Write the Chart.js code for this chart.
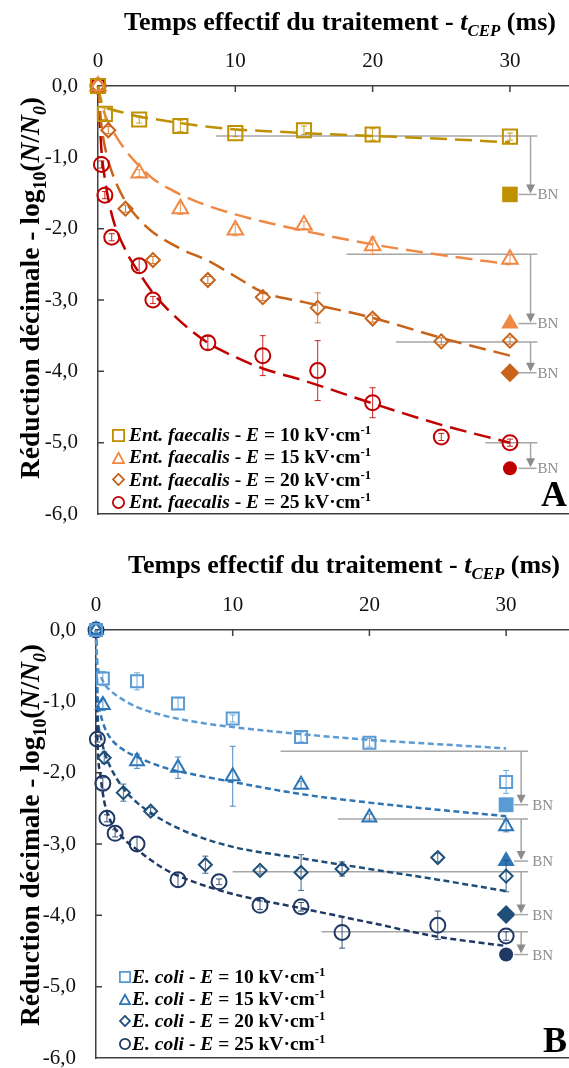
<!DOCTYPE html>
<html><head><meta charset="utf-8">
<script src="https://cdn.jsdelivr.net/npm/chart.js@4"></script>
<style>
html,body{margin:0;padding:0;background:#fff;overflow:hidden;width:569px;height:1068px}
#wrap{position:relative;width:569px;height:1068px;font-family:'Liberation Serif','Times New Roman',serif;color:#000}
canvas{position:absolute;left:0}
.xt{position:absolute;font-weight:bold;font-size:26px;white-space:nowrap;line-height:26px}
.yt{position:absolute;font-weight:bold;font-size:27.5px;white-space:nowrap;line-height:28px;transform:translate(-50%,-50%) rotate(-90deg)}
.lr{position:absolute;font-weight:bold;font-size:19.5px;white-space:nowrap;height:22px;line-height:22px;display:flex;align-items:center}
.pl{position:absolute;font-weight:bold;font-size:36px;line-height:36px}
sub,sup{font-size:65%;line-height:0}
</style></head>
<body><div id="wrap">
<canvas id="cA" width="569" height="540" style="top:0"></canvas>
<canvas id="cB" width="569" height="528" style="top:540px"></canvas>
<div class="xt" style="left:124px;top:9px">Temps effectif du traitement - <i>t</i><sub><i>CEP</i></sub> (ms)</div>
<div class="xt" style="left:128px;top:552px">Temps effectif du traitement - <i>t</i><sub><i>CEP</i></sub> (ms)</div>
<div class="yt" style="left:30px;top:288px">Réduction décimale - log<sub>10</sub>(<i>N</i>/<i>N</i><sub><i>0</i></sub>)</div>
<div class="yt" style="left:30px;top:835px">Réduction décimale - log<sub>10</sub>(<i>N</i>/<i>N</i><sub><i>0</i></sub>)</div>
<div class="pl" style="right:2px;top:476px">A</div>
<div class="pl" style="right:2px;top:1022px">B</div>
<div id="legA"></div><div id="legB"></div>
</div>
<script>
// ---------- tick labels ----------
const xTickValues = [0, 10, 20, 30];
const yTickValues = [0, -1, -2, -3, -4, -5, -6];
const yTickLabels = ['0,0', '-1,0', '-2,0', '-3,0', '-4,0', '-5,0', '-6,0'];

// ---------- Panel A : Ent. faecalis ----------
const fieldsA = ['10', '15', '20', '25'];
const tA10 = [0, 0.5, 3, 6, 10, 15, 20, 30];
const yA10 = [0, -0.39, -0.47, -0.56, -0.66, -0.62, -0.68, -0.71];
const eA10 = [0, 0.08, 0.05, 0.08, 0.05, 0.06, 0.08, 0.05];
const tA15 = [0, 3, 6, 10, 15, 20, 30];
const yA15 = [0, -1.22, -1.72, -2.02, -1.95, -2.24, -2.43];
const eA15 = [0, 0.05, 0.08, 0.08, 0.05, 0.12, 0.06];
const tA20 = [0, 0.75, 2, 4, 8, 12, 16, 20, 25, 30];
const yA20 = [0, -0.62, -1.72, -2.44, -2.72, -2.96, -3.11, -3.26, -3.58, -3.57];
const eA20 = [0, 0.05, 0.05, 0.05, 0.05, 0.05, 0.21, 0.05, 0.05, 0.05];
const tA25 = [0, 0.25, 0.5, 1, 3, 4, 8, 12, 16, 20, 25, 30];
const yA25 = [0, -1.1, -1.53, -2.12, -2.52, -3.0, -3.6, -3.78, -3.99, -4.44, -4.92, -5.0];
const eA25 = [0, 0.05, 0.05, 0.05, 0.1, 0.05, 0.09, 0.28, 0.42, 0.21, 0.05, 0.05];
// fitted curves
const fitTA = [0, 0.25, 0.5, 1, 2, 3, 4, 6, 8, 10, 12, 15, 20, 25, 30];
const fitA10 = [0, -0.22, -0.29, -0.33, -0.38, -0.43, -0.46, -0.52, -0.57, -0.61, -0.63, -0.66, -0.70, -0.74, -0.79];
const fitA15 = [0, -0.25, -0.4, -0.6, -0.9, -1.12, -1.3, -1.52, -1.68, -1.8, -1.9, -2.03, -2.22, -2.37, -2.5];
const fitA20 = [0, -0.55, -0.85, -1.2, -1.62, -1.87, -2.05, -2.28, -2.45, -2.67, -2.89, -3.03, -3.25, -3.53, -3.78];
const fitA25 = [0, -0.9, -1.3, -1.8, -2.3, -2.62, -2.9, -3.3, -3.6, -3.8, -3.96, -4.13, -4.45, -4.75, -5.0];
// detection limit (BN) annotations
const bnLevelA = [-0.70, -2.36, -3.59, -5.0];
const bnStartA = [8.6, 18.1, 21.7, 28.2];
const bnValueA = [-1.52, -3.33, -4.02, -5.36];
const bnEndA = 32.0, bnArrowA = 31.5, bnTimeA = 30;

// ---------- Panel B : E. coli ----------
const fieldsB = ['10', '15', '20', '25'];
const tB10 = [0, 0.5, 3, 6, 10, 15, 20, 30];
const yB10 = [0, -0.68, -0.72, -1.03, -1.24, -1.5, -1.58, -2.13];
const eB10 = [0, 0.1, 0.12, 0.08, 0.05, 0.07, 0.06, 0.16];
const tB15 = [0, 0.5, 3, 6, 10, 15, 20, 30];
const yB15 = [0, -1.05, -1.84, -1.93, -2.05, -2.17, -2.63, -2.75];
const eB15 = [0, 0.08, 0.1, 0.15, 0.42, 0.05, 0.05, 0.08];
const tB20 = [0, 0.6, 2, 4, 8, 12, 15, 18, 25, 30];
const yB20 = [0, -1.79, -2.28, -2.54, -3.29, -3.37, -3.4, -3.35, -3.19, -3.45];
const eB20 = [0, 0.08, 0.12, 0.05, 0.12, 0.05, 0.25, 0.1, 0.06, 0.22];
const tB25 = [0, 0.1, 0.5, 0.8, 1.4, 3, 6, 9, 12, 15, 18, 25, 30];
const yB25 = [0, -1.53, -2.15, -2.64, -2.85, -3.0, -3.5, -3.53, -3.86, -3.88, -4.24, -4.14, -4.29];
const eB25 = [0, 0.04, 0.08, 0.05, 0.05, 0.1, 0.1, 0.04, 0.06, 0.06, 0.22, 0.2, 0.06];
const fitTB = [0, 0.1, 0.3, 0.6, 1, 2, 3, 5, 7, 10, 15, 20, 25, 30];
const fitB10 = [0, -0.45, -0.62, -0.75, -0.84, -0.98, -1.08, -1.2, -1.28, -1.36, -1.46, -1.54, -1.6, -1.66];
const fitB15 = [0, -0.85, -1.15, -1.35, -1.5, -1.68, -1.78, -1.93, -2.02, -2.13, -2.3, -2.42, -2.52, -2.61];
const fitB20 = [0, -1.1, -1.45, -1.7, -1.9, -2.22, -2.42, -2.68, -2.86, -3.04, -3.2, -3.35, -3.5, -3.66];
const fitB25 = [0, -1.5, -2.0, -2.4, -2.65, -2.92, -3.08, -3.35, -3.52, -3.7, -3.9, -4.1, -4.3, -4.43];
const bnLevelB = [-1.70, -2.65, -3.39, -4.23];
const bnStartB = [13.5, 17.7, 10.0, 16.5];
const bnValueB = [-2.45, -3.24, -3.99, -4.55];
const bnEndB = 31.6, bnArrowB = 31.1, bnTimeB = 30;

// ---------- styles ----------
const colorsA = ['#BF9000', '#EE8A45', '#C8631A', '#C00000'];
const colorsB = ['#5B9BD5', '#2E75B6', '#1F4E79', '#1F3864'];
const shapes = ['rect', 'triangle', 'rectRot', 'circle'];
const GREY = '#A6A6A6';

const zip = (xs, ys) => xs.map((x, i) => ({x, y: ys[i]}));

const errPlugin = {
  id: 'errbars',
  afterDatasetsDraw(chart) {
    const ctx = chart.ctx, xs = chart.scales.x, ys = chart.scales.y;
    chart.data.datasets.forEach(ds => {
      if (!ds.errors) return;
      ctx.save(); ctx.strokeStyle = ds.borderColor; ctx.lineWidth = 1; ctx.globalAlpha = 0.85;
      ds.data.forEach((p, j) => {
        const e = ds.errors[j]; if (!e) return;
        const px = xs.getPixelForValue(p.x), y1 = ys.getPixelForValue(p.y + e), y2 = ys.getPixelForValue(p.y - e);
        ctx.beginPath();
        ctx.moveTo(px, y1); ctx.lineTo(px, y2);
        ctx.moveTo(px - 3, y1); ctx.lineTo(px + 3, y1);
        ctx.moveTo(px - 3, y2); ctx.lineTo(px + 3, y2);
        ctx.stroke();
      });
      ctx.restore();
    });
  }
};
const tickPlugin = {
  id: 'innerticks',
  beforeDatasetsDraw(chart) {
    const ctx = chart.ctx, a = chart.chartArea, xs = chart.scales.x, ys = chart.scales.y;
    ctx.save(); ctx.strokeStyle = '#404040'; ctx.lineWidth = 1.5; ctx.beginPath();
    xs.ticks.forEach(t => { if (t.value === 0) return; const p = xs.getPixelForValue(t.value); ctx.moveTo(p, a.top); ctx.lineTo(p, a.top + 6); });
    ys.ticks.forEach(t => { if (t.value === 0 || t.value === -6) return; const p = ys.getPixelForValue(t.value); ctx.moveTo(a.left, p); ctx.lineTo(a.left + 6, p); });
    ctx.stroke(); ctx.restore();
  }
};
const bnPlugin = {
  id: 'bn',
  afterDatasetsDraw(chart, args, o) {
    if (!o || !o.values) return;
    const ctx = chart.ctx, xs = chart.scales.x, ys = chart.scales.y;
    const px = xs.getPixelForValue(o.arrowX);
    ctx.save();
    o.values.forEach(v => {
      const py = ys.getPixelForValue(v);
      ctx.fillStyle = '#8C8C8C';
      ctx.beginPath(); ctx.moveTo(px, py - 1); ctx.lineTo(px - 4.5, py - 10); ctx.lineTo(px + 4.5, py - 10); ctx.closePath(); ctx.fill();
      ctx.strokeStyle = GREY; ctx.lineWidth = 1.5;
      ctx.beginPath(); ctx.moveTo(px + o.tickL, py); ctx.lineTo(px + o.tickR, py); ctx.stroke();
      ctx.fillStyle = '#8C8C8C'; ctx.font = '15px "Liberation Serif"'; ctx.textBaseline = 'middle'; ctx.textAlign = 'left';
      ctx.fillText('BN', px + o.textDX, py + 1);
    });
    ctx.restore();
  }
};

function buildChart(id, cfg) {
  const datasets = [];
  cfg.series.forEach((s, i) => {
    datasets.push({
      type: 'scatter', data: zip(s.t, s.y), errors: s.e, order: 0, clip: false,
      pointStyle: shapes[i], pointRadius: cfg.radii[i], pointBorderWidth: 2,
      borderColor: cfg.colors[i], backgroundColor: 'rgba(255,255,255,0)', showLine: false
    });
    datasets.push({
      type: 'line', data: zip(cfg.fitT, s.fit), order: 2, clip: false,
      borderColor: cfg.colors[i], borderWidth: 2.5, borderDash: cfg.dash,
      pointRadius: 0, cubicInterpolationMode: 'monotone', fill: false
    });
    datasets.push({
      type: 'line', data: [{x: cfg.bnStart[i], y: cfg.bnLevel[i]}, {x: cfg.bnEnd, y: cfg.bnLevel[i]}],
      order: 3, clip: false, borderColor: GREY, borderWidth: 1.5, pointRadius: 0
    });
    datasets.push({
      type: 'line', data: [{x: cfg.bnArrow, y: cfg.bnLevel[i]}, {x: cfg.bnArrow, y: cfg.bnValue[i] + 0.1}],
      order: 3, clip: false, borderColor: GREY, borderWidth: 1.5, pointRadius: 0
    });
    datasets.push({
      type: 'scatter', data: [{x: cfg.bnTime, y: cfg.bnValue[i]}], order: 1, clip: false,
      pointStyle: shapes[i], pointRadius: cfg.fillRadii[i], pointBorderWidth: 0,
      borderColor: cfg.colors[i], backgroundColor: cfg.colors[i]
    });
  });
  return new Chart(document.getElementById(id), {
    type: 'scatter',
    data: {datasets},
    plugins: [tickPlugin, errPlugin, bnPlugin],
    options: {
      responsive: false, animation: false, devicePixelRatio: 1,
      layout: {padding: 0, autoPadding: false},
      plugins: {
        legend: {display: false}, tooltip: {enabled: false},
        bn: {values: cfg.bnValue, arrowX: cfg.bnArrow, tickL: cfg.tickL, tickR: cfg.tickR, textDX: cfg.textDX}
      },
      scales: {
        x: {
          type: 'linear', position: 'top', min: 0, max: cfg.xMax,
          afterFit: s => { s.height = cfg.top; s.paddingLeft = 0; s.paddingRight = 0; },
          afterBuildTicks: s => { s.ticks = xTickValues.map(v => ({value: v})); },
          grid: {display: false, drawTicks: false},
          border: {display: true, color: '#404040', width: 1.5},
          ticks: {padding: 12, color: '#111', font: {size: 21, family: 'Liberation Serif'}, callback: v => String(v)}
        },
        x2: {
          type: 'linear', position: 'bottom', min: 0, max: cfg.xMax,
          afterFit: s => { s.height = cfg.bottomH; s.paddingLeft = 0; s.paddingRight = 0; },
          grid: {display: false, drawTicks: false},
          border: {display: true, color: '#404040', width: 1.5},
          ticks: {display: false}
        },
        y: {
          type: 'linear', position: 'left', min: -6, max: 0,
          afterFit: s => { s.width = cfg.left; s.paddingTop = 0; s.paddingBottom = 0; },
          afterBuildTicks: s => { s.ticks = yTickValues.map(v => ({value: v})); },
          grid: {display: false, drawTicks: false},
          border: {display: true, color: '#404040', width: 1.5},
          ticks: {padding: 20, color: '#111', font: {size: 21, family: 'Liberation Serif'},
            callback: v => yTickLabels[yTickValues.indexOf(v)]}
        }
      }
    }
  });
}

buildChart('cA', {
  series: [
    {t: tA10, y: yA10, e: eA10, fit: fitA10},
    {t: tA15, y: yA15, e: eA15, fit: fitA15},
    {t: tA20, y: yA20, e: eA20, fit: fitA20},
    {t: tA25, y: yA25, e: eA25, fit: fitA25}
  ],
  fitT: fitTA, colors: colorsA, radii: [10, 9, 7, 7.5], fillRadii: [11, 10, 9.5, 7], dash: [17, 8],
  bnLevel: bnLevelA, bnStart: bnStartA, bnValue: bnValueA, bnEnd: bnEndA, bnArrow: bnArrowA, bnTime: bnTimeA,
  tickL: -12, tickR: 6, textDX: 7,
  xMax: 34.3, top: 86, bottomH: 26, left: 98
});
buildChart('cB', {
  series: [
    {t: tB10, y: yB10, e: eB10, fit: fitB10},
    {t: tB15, y: yB15, e: eB15, fit: fitB15},
    {t: tB20, y: yB20, e: eB20, fit: fitB20},
    {t: tB25, y: yB25, e: eB25, fit: fitB25}
  ],
  fitT: fitTB, colors: colorsB, radii: [8.5, 8, 6.5, 7.5], fillRadii: [10.5, 10, 9.5, 7], dash: [6, 3.5],
  bnLevel: bnLevelB, bnStart: bnStartB, bnValue: bnValueB, bnEnd: bnEndB, bnArrow: bnArrowB, bnTime: bnTimeB,
  tickL: -7, tickR: 7, textDX: 11,
  xMax: 34.6, top: 90, bottomH: 10, left: 96
});

// ---------- legends (HTML text) ----------
function markerSVG(shape, color, s) {
  const h = s / 2, w = 1.8;
  let inner = '';
  const st = `fill="none" stroke="${color}" stroke-width="${w}"`;
  if (shape === 'rect') inner = `<rect x="${w/2}" y="${w/2}" width="${s-w}" height="${s-w}" ${st}/>`;
  if (shape === 'triangle') inner = `<polygon points="${h},${w} ${s-w/2},${s-w/2} ${w/2},${s-w/2}" ${st}/>`;
  if (shape === 'rectRot') inner = `<polygon points="${h},${w/2} ${s-w/2},${h} ${h},${s-w/2} ${w/2},${h}" ${st}/>`;
  if (shape === 'circle') inner = `<circle cx="${h}" cy="${h}" r="${h-w/2}" ${st}/>`;
  return `<svg width="${s}" height="${s}" style="flex:none">${inner}</svg>`;
}
function buildLegend(elId, species, fields, colors, left, textLeft, firstY, step, msize) {
  const el = document.getElementById(elId);
  fields.forEach((f, i) => {
    const row = document.createElement('div');
    row.className = 'lr';
    row.style.left = left + 'px';
    row.style.top = (firstY + i * step - 11) + 'px';
    row.innerHTML = markerSVG(shapes[i], colors[i], msize) +
      `<span style="margin-left:${textLeft - left - msize}px"><i>${species}</i> - <i>E</i> = ${f} kV·cm<sup>-1</sup></span>`;
    el.appendChild(row);
  });
}
buildLegend('legA', 'Ent. faecalis', fieldsA, colorsA, 112, 129, 435, 22.4, 13);
buildLegend('legB', 'E. coli', fieldsB, colorsB, 119, 132, 977, 22.2, 12);
</script>
</body></html>
